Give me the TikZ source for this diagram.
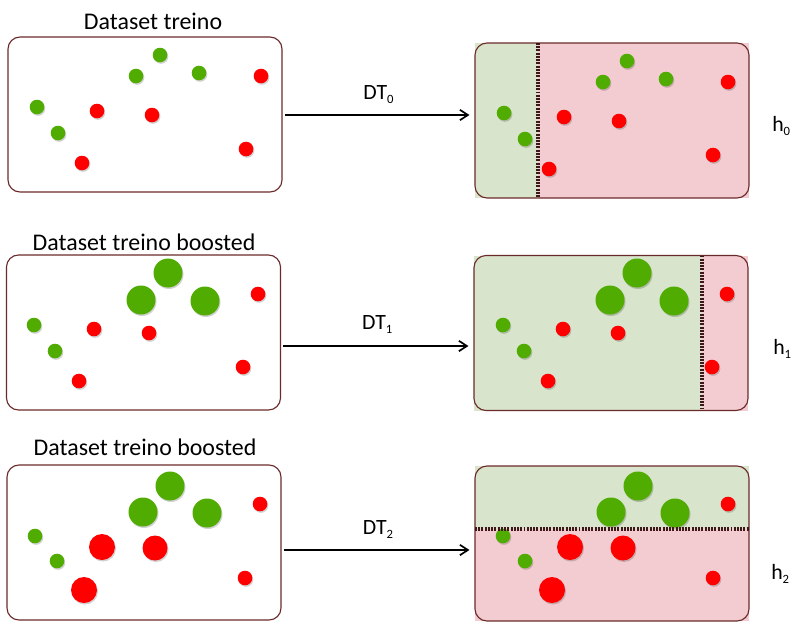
\documentclass[tikz,border=0pt]{standalone}
\usepackage{fontspec}
\setmainfont{Carlito}
\usetikzlibrary{arrows.meta}
\definecolor{verde-punto}{HTML}{50AC00}
\definecolor{rojo-punto}{HTML}{FF0000}
\definecolor{verde-fondo}{HTML}{D8E4CB}
\definecolor{rojo-fondo}{HTML}{F2CCD0}
\definecolor{borde-caja}{HTML}{6B2A2A}
\definecolor{linea-corte}{HTML}{3E1818}
\newlength{\basisboost}
\setlength{\basisboost}{0.025cm}

% subindice de las etiquetas DT y h
\newcommand{\subindice}[1]{\raisebox{-3pt}{\fontsize{9}{10}\selectfont #1}}

% puntos x/y/radio, relativos a la esquina de la caja
\newcommand{\verdesA}{29/70/7.3, 50/96/7.3, 128/39/7.3, 152/18/7.3, 191/36/7.3}
\newcommand{\rojosA}{89/74/7.3, 144/78/7.3, 74/126/7.3, 253/39/7.3, 238/112/7.3}
\newcommand{\verdesB}{28/70/7.3, 49/96/7.3, 135/45/14.5, 162/18/14.5, 199/46/14.5}
\newcommand{\rojosB}{88/74/7.3, 143/78/7.3, 73/126/7.3, 252/39/7.3, 237/112/7.3}
\newcommand{\verdesC}{28/70/7.3, 50/95/7.3, 136/46/14.5, 163/20/14.5, 200/47/14.5}
\newcommand{\rojosC}{95/81/13, 148/82/12.5, 77/124/13, 253/38/7.3, 238/112/7.3}

\newcommand{\puntosdataset}[3]{%
  \begin{scope}[shift={#1}]
    \foreach \px/\py/\pr in #2 {
      \fill[sombra] ({\px+1},{\py+1.5}) circle (\pr\basisboost);
      \fill[verde-punto] (\px,\py) circle (\pr\basisboost);
    }
    \foreach \px/\py/\pr in #3 {
      \fill[sombra] ({\px+1},{\py+1.5}) circle (\pr\basisboost);
      \fill[rojo-punto] (\px,\py) circle (\pr\basisboost);
    }
  \end{scope}}

\begin{document}
\begin{tikzpicture}[x=\basisboost, y=-\basisboost,
    caja/.style={draw=borde-caja, line width=0.8pt, rounded corners=12\basisboost, minimum width=274\basisboost, minimum height=155\basisboost, inner sep=0pt},
    titulo/.style={anchor=base, font=\fontsize{17}{20}\selectfont},
    etiqueta/.style={font=\fontsize{15.5}{18}\selectfont},
    flecha/.style={-{Straight Barb[length=2mm,width=2.6mm]}, line width=1.2pt, shorten <=2\basisboost, shorten >=5\basisboost},
    corte/.style={draw=linea-corte, line width=2.3pt, dash pattern=on 1.4pt off 0.9pt},
    sombra/.style={black, opacity=0.18}]
    \useasboundingbox (0,0) rectangle (800,625);

    % h0
    \draw (153,29) node[titulo] (titulo-0) {Dataset treino};
    \draw (145,114.5) node[caja] (treino-0) {};
    \fill[verde-fondo] (475,43) rectangle (538,198);
    \fill[rojo-fondo] (538,43) rectangle (749,198);
    \draw (612,120.5) node[caja] (arbol-0) {};
    \draw[corte] (538,43) -- (538,198);
    \puntosdataset{(8,37)}{\verdesA}{\rojosA}
    \puntosdataset{(475,43)}{\verdesA}{\rojosA}
    \coordinate (pijl-0) at (0,115);
    \draw[flecha] (treino-0.east |- pijl-0) -- (arbol-0.west |- pijl-0)
        node[etiqueta, midway, anchor=base, yshift=16\basisboost] (dt-0) {DT\subindice{0}};
    \draw (772,131) node[etiqueta, anchor=base west, inner sep=0pt] (h-0) {h\subindice{0}};

    % h1
    \draw (144,250) node[titulo] (titulo-1) {Dataset treino boosted};
    \draw (143.5,332.5) node[caja] (treino-1) {};
    \fill[verde-fondo] (474,255.5) rectangle (702,410.5);
    \fill[rojo-fondo] (702,255.5) rectangle (748,410.5);
    \draw (611,333) node[caja] (arbol-1) {};
    \draw[corte] (702,255.5) -- (702,410.5);
    \puntosdataset{(6,255)}{\verdesB}{\rojosB}
    \puntosdataset{(475,255)}{\verdesB}{\rojosB}
    \coordinate (pijl-1) at (0,346);
    \draw[flecha] (treino-1.east |- pijl-1) -- (arbol-1.west |- pijl-1)
        node[etiqueta, midway, anchor=base, yshift=17\basisboost] (dt-1) {DT\subindice{1}};
    \draw (773,354) node[etiqueta, anchor=base west, inner sep=0pt] (h-1) {h\subindice{1}};

    % h2
    \draw (145,455) node[titulo] (titulo-2) {Dataset treino boosted};
    \draw (144,542.5) node[caja] (treino-2) {};
    \fill[verde-fondo] (475,466) rectangle (749,529);
    \fill[rojo-fondo] (475,529) rectangle (749,621);
    \draw (612,543.5) node[caja] (arbol-2) {};
    \puntosdataset{(7,466)}{\verdesC}{\rojosC}
    \puntosdataset{(475,466)}{\verdesC}{\rojosC}
    \draw[corte] (475,529) -- (749,529);
    \coordinate (pijl-2) at (0,550);
    \draw[flecha] (treino-2.east |- pijl-2) -- (arbol-2.west |- pijl-2)
        node[etiqueta, midway, anchor=base, yshift=16\basisboost] (dt-2) {DT\subindice{2}};
    \draw (771,579) node[etiqueta, anchor=base west, inner sep=0pt] (h-2) {h\subindice{2}};
\end{tikzpicture}
\end{document}
